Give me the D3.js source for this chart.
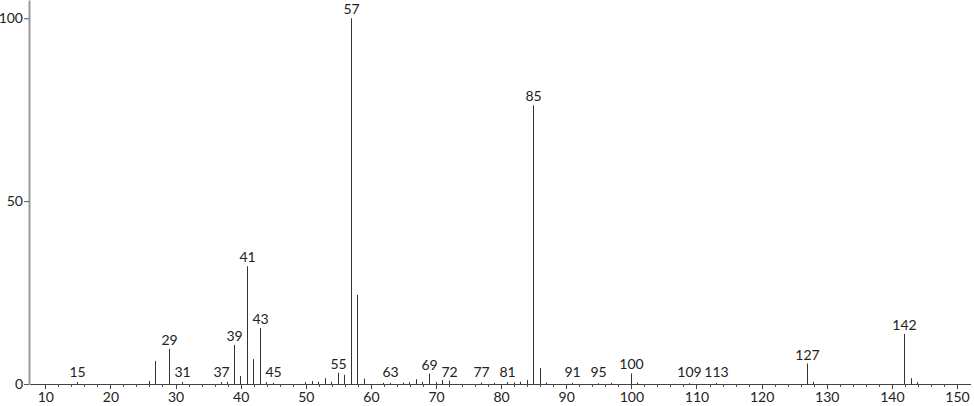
<!DOCTYPE html>
<html>
<head>
<meta charset="utf-8">
<script src="https://cdn.jsdelivr.net/npm/d3@7"></script>
<style>
  body { margin: 0; background: #fff; }
  svg { display: block; }
  text { font-family: "Lato", "DejaVu Sans", sans-serif; fill: #222; }
</style>
</head>
<body>
<div id="chart"></div>
<script>
// m/z values and relative intensities
const mz = [15, 26, 27, 29, 31, 37, 38, 39, 40, 41, 42, 43, 44, 45,
  50, 51, 52, 53, 54, 55, 56, 57, 58, 59, 62, 63, 65, 66, 67, 68, 69, 70, 71, 72,
  77, 79, 81, 82, 83, 84, 85, 86, 87, 91, 95, 97, 100, 101,
  109, 113, 127, 128, 142, 143, 144];
const intensity = [0.5, 0.8, 6.3, 9.6, 0.5, 0.5, 0.6, 10.7, 2.2, 32.2, 6.8, 15.3, 0.5, 0.3,
  0.5, 0.8, 0.6, 1.6, 0.6, 3.1, 2.5, 100, 24.4, 1.5, 0.3, 0.3, 0.4, 0.5, 1.3, 0.6, 2.8, 0.5, 1.1, 0.9,
  0.4, 0.3, 0.5, 0.4, 0.6, 1.1, 76.2, 4.4, 0.4, 0.3, 0.2, 0.3, 2.9, 0.4,
  0.2, 0.3, 5.6, 0.6, 13.7, 1.6, 0.5];
const labelled = [15, 29, 31, 37, 39, 41, 43, 45, 55, 57, 63, 69, 72, 77, 81, 85,
  91, 95, 100, 109, 113, 127, 142];
const xTicks = [10, 20, 30, 40, 50, 60, 70, 80, 90, 100, 110, 120, 130, 140, 150];
const yTicks = [0, 50, 100];

const width = 974, height = 406;

const peaks = mz.map((m, i) => ({mz: m, v: intensity[i]}));

const x = d3.scaleLinear().domain([7.5, 152]).range([29, 970]);
const y = d3.scaleLinear().domain([0, 105]).range([384, 0]);
const px = (m) => Math.floor(x(m)) + 0.5;

const svg = d3.select("#chart")
    .append("svg")
    .attr("width", width)
    .attr("height", height);

// minor ticks every 2 units below the axis
svg.append("g")
    .attr("transform", "translate(0,384)")
    .call(d3.axisBottom(x).tickValues(d3.range(10, 152, 2)).tickSize(3).tickFormat(""))
    .call(g => g.select(".domain").remove())
    .call(g => g.selectAll("line").attr("stroke", "#555").attr("shape-rendering", "crispEdges"));

const xAxis = svg.append("g")
    .attr("transform", "translate(0,384)")
    .call(d3.axisBottom(x).tickValues(xTicks).tickSize(5).tickSizeOuter(0).tickPadding(3));
xAxis.select(".domain").attr("stroke", "#444").attr("shape-rendering", "crispEdges");
xAxis.selectAll("line").attr("stroke", "#444").attr("shape-rendering", "crispEdges");
xAxis.selectAll("text").attr("font-size", 14).style("font-family", "Lato, 'DejaVu Sans', sans-serif").attr("fill", "#222");

const yAxis = svg.append("g")
    .attr("transform", "translate(29,0)")
    .call(d3.axisLeft(y).tickValues(yTicks).tickSize(5).tickSizeOuter(0).tickPadding(1));
yAxis.select(".domain").attr("stroke", "#999").attr("stroke-width", 2);
yAxis.selectAll("line").attr("stroke", "#555");
yAxis.selectAll("text").attr("font-size", 14).style("font-family", "Lato, 'DejaVu Sans', sans-serif").attr("fill", "#222");

// peaks
svg.append("g")
    .selectAll("line")
    .data(peaks)
    .join("line")
    .attr("x1", d => px(d.mz))
    .attr("x2", d => px(d.mz))
    .attr("y1", y(0))
    .attr("y2", d => y(d.v))
    .attr("stroke", "#333")
    .attr("stroke-width", 1);

// peak labels
svg.append("g")
    .selectAll("text")
    .data(peaks.filter(d => labelled.includes(d.mz)))
    .join("text")
    .attr("x", d => px(d.mz))
    .attr("y", d => Math.min(y(d.v), 381) - 4)
    .attr("text-anchor", "middle")
    .attr("font-size", 14)
    .text(d => d.mz);
</script>
</body>
</html>
